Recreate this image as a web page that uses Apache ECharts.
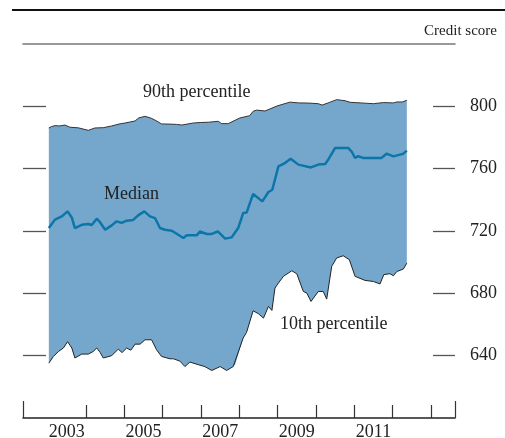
<!DOCTYPE html>
<html>
<head>
<meta charset="utf-8">
<script src="https://cdn.jsdelivr.net/npm/echarts@6/dist/echarts.min.js"></script>
<style>
  html, body { margin: 0; padding: 0; background: #fff; }
  #chart { width: 505px; height: 438px; }
</style>
</head>
<body>
<div id="chart"></div>
<script>
// [year, credit score]
const p90 = [
  [2003.03, 786.1], [2003.10, 787.0], [2003.19, 787.6], [2003.32, 787.4], [2003.45, 788.0],
  [2003.58, 786.6], [2003.80, 786.2], [2004.06, 784.6], [2004.23, 786.1], [2004.45, 786.3],
  [2004.67, 787.4], [2004.89, 788.8], [2005.02, 789.3], [2005.28, 790.6], [2005.37, 792.5],
  [2005.54, 793.6], [2005.71, 792.3], [2005.85, 790.5], [2005.97, 788.7], [2006.19, 788.6],
  [2006.36, 788.4], [2006.50, 788.0], [2006.80, 789.3], [2006.98, 789.6], [2007.20, 789.8],
  [2007.45, 790.4], [2007.54, 788.9], [2007.71, 788.9], [2008.01, 792.5], [2008.27, 794.0],
  [2008.36, 796.8], [2008.45, 797.6], [2008.67, 797.0], [2008.98, 800.2], [2009.32, 802.7],
  [2009.55, 802.2], [2009.80, 802.1], [2010.06, 801.7], [2010.16, 800.8], [2010.35, 802.5],
  [2010.54, 804.3], [2010.76, 803.6], [2010.89, 802.6], [2011.15, 802.2], [2011.50, 801.7],
  [2011.76, 802.4], [2012.02, 802.2], [2012.11, 802.8], [2012.25, 802.8], [2012.37, 803.9]
]

const median = [
  [2003.03, 721.9], [2003.19, 727.3], [2003.37, 729.4], [2003.52, 732.6], [2003.63, 728.6],
  [2003.71, 721.9], [2003.89, 724.0], [2004.06, 724.5], [2004.15, 723.9], [2004.28, 727.9],
  [2004.37, 725.5], [2004.50, 720.8], [2004.67, 723.6], [2004.80, 726.2], [2004.93, 725.2],
  [2005.06, 726.6], [2005.23, 727.1], [2005.36, 730.0], [2005.52, 732.6], [2005.67, 729.4],
  [2005.80, 728.3], [2005.93, 721.9], [2006.06, 720.8], [2006.24, 720.2], [2006.54, 715.5],
  [2006.63, 717.2], [2006.89, 717.2], [2006.97, 719.7], [2007.15, 718.1], [2007.28, 718.1],
  [2007.44, 719.7], [2007.63, 715.1], [2007.80, 715.9], [2007.97, 721.9], [2008.10, 731.5],
  [2008.19, 731.8], [2008.36, 743.8], [2008.60, 739.0], [2008.76, 745.0], [2008.86, 746.5],
  [2009.02, 761.5], [2009.19, 763.6], [2009.34, 766.4], [2009.54, 762.6], [2009.87, 760.8],
  [2010.06, 762.6], [2010.24, 763.0], [2010.32, 765.8], [2010.50, 773.3], [2010.84, 773.3],
  [2010.93, 771.0], [2011.02, 766.9], [2011.10, 768.0], [2011.23, 766.9], [2011.71, 766.9],
  [2011.84, 769.6], [2012.02, 767.9], [2012.19, 769.0], [2012.27, 769.5], [2012.37, 771.6]
]

const p10 = [
  [2003.03, 635.2], [2003.15, 639.5], [2003.28, 642.7], [2003.41, 644.9], [2003.52, 649.0],
  [2003.63, 644.9], [2003.71, 638.5], [2003.89, 641.0], [2004.06, 641.0], [2004.19, 642.7],
  [2004.28, 644.9], [2004.37, 642.0], [2004.45, 638.5], [2004.67, 640.0], [2004.84, 644.2],
  [2004.94, 642.0], [2005.06, 644.9], [2005.17, 643.5], [2005.28, 647.4], [2005.41, 647.4],
  [2005.54, 650.2], [2005.71, 650.2], [2005.84, 643.8], [2005.97, 639.5], [2006.19, 638.0],
  [2006.28, 638.0], [2006.45, 636.5], [2006.58, 633.0], [2006.71, 635.9], [2006.93, 634.2],
  [2007.10, 633.0], [2007.28, 630.5], [2007.50, 633.0], [2007.67, 630.5], [2007.84, 633.0],
  [2007.89, 634.2], [2008.10, 651.3], [2008.19, 655.0], [2008.36, 668.8], [2008.50, 666.9],
  [2008.63, 664.1], [2008.76, 671.6], [2008.85, 669.0], [2008.93, 683.4], [2009.02, 686.6],
  [2009.15, 690.9], [2009.37, 694.5], [2009.50, 692.5], [2009.67, 681.2], [2009.76, 680.2],
  [2009.87, 674.8], [2010.06, 681.2], [2010.19, 681.2], [2010.28, 676.3], [2010.41, 697.3],
  [2010.54, 702.7], [2010.71, 704.1], [2010.87, 701.6], [2011.02, 690.9], [2011.28, 688.3],
  [2011.50, 687.6], [2011.67, 686.0], [2011.77, 692.0], [2011.93, 692.6], [2012.02, 691.3],
  [2012.11, 694.0], [2012.28, 695.6], [2012.37, 699.4]
]

const yearTicks = [2004, 2005, 2006, 2007, 2008, 2009, 2010, 2011, 2012, 2013]
const yearLabels = [2003.5, 2005.5, 2007.5, 2009.5, 2011.5]
const scoreTicks = [640, 680, 720, 760, 800]

const X_MIN = 2002.356
const X_MAX = 2013.627
const SERIF = '"Liberation Serif", "DejaVu Serif", serif'

const chart = echarts.init(document.getElementById('chart'))

// band between the 10th and 90th percentile, one polygon through the axes' scales
const renderBand = (params, api) => {
  const pts = p90.map(d => api.coord(d))
    .concat(p10.slice().reverse().map(d => api.coord(d)))
  return { type: 'polygon', shape: { points: pts }, style: { fill: '#75a7cc' } }
}

chart.setOption({
  animation: false,
  grid: { left: 23, right: 50, top: 44, bottom: 20, outerBoundsMode: 'none' },
  xAxis: [
    {
      type: 'value', min: X_MIN, max: X_MAX, position: 'bottom', z: 10,
      splitLine: { show: false },
      axisLine: { lineStyle: { color: '#222', width: 1.5 } },
      axisTick: { inside: true, length: 13, customValues: yearTicks, lineStyle: { color: '#333', width: 1.2 } },
      axisLabel: {
        customValues: yearLabels, margin: 5,
        formatter: v => String(Math.floor(v)),
        fontFamily: SERIF, fontSize: 18, color: '#222'
      }
    },
    {
      type: 'value', min: X_MIN, max: X_MAX, position: 'bottom', z: 10,
      splitLine: { show: false },
      axisLine: { show: false },
      axisTick: { inside: true, length: 17, customValues: [X_MIN, X_MAX], lineStyle: { color: '#333', width: 1.2 } },
      axisLabel: { show: false }
    },
    {
      type: 'value', min: X_MIN, max: X_MAX, position: 'top', z: 10,
      splitLine: { show: false },
      axisLine: { lineStyle: { color: '#777', width: 1.5 } },
      axisTick: { show: false },
      axisLabel: { show: false }
    }
  ],
  yAxis: [
    {
      type: 'value', min: 600, max: 840, position: 'left',
      splitLine: { show: false },
      axisLine: { show: false },
      axisTick: { inside: true, length: 23, customValues: scoreTicks, lineStyle: { color: '#555', width: 1.3 } },
      axisLabel: { show: false }
    },
    {
      type: 'value', min: 600, max: 840, position: 'right',
      splitLine: { show: false },
      axisLine: { show: false },
      axisTick: { inside: true, length: 22, customValues: scoreTicks, lineStyle: { color: '#555', width: 1.3 } },
      axisLabel: {
        customValues: scoreTicks, margin: 15,
        fontFamily: SERIF, fontSize: 18, color: '#222'
      }
    }
  ],
  series: [
    {
      name: 'band', type: 'custom', data: [p90[0]], renderItem: renderBand,
      silent: true, z: 1
    },
    {
      name: '90th percentile', type: 'line', data: p90, symbol: 'none',
      lineStyle: { color: '#333', width: 1 }, z: 3
    },
    {
      name: '10th percentile', type: 'line', data: p10, symbol: 'none',
      lineStyle: { color: '#222', width: 1 }, z: 3
    },
    {
      name: 'Median', type: 'line', data: median, symbol: 'none',
      lineStyle: { color: '#0b76a9', width: 2.5 }, z: 4
    }
  ],
  graphic: [
    { type: 'rect', z: 100, shape: { x: 12, y: 9, width: 493, height: 2 }, style: { fill: '#111' } },
    { type: 'text', z: 100, right: 8, top: 24, style: { text: 'Credit score', font: '15px ' + SERIF, fill: '#222' } },
    { type: 'text', z: 100, left: 143, top: 83, style: { text: '90th percentile', font: '18px ' + SERIF, fill: '#222' } },
    { type: 'text', z: 100, left: 104, top: 185, style: { text: 'Median', font: '18px ' + SERIF, fill: '#222' } },
    { type: 'text', z: 100, left: 280, top: 315, style: { text: '10th percentile', font: '18px ' + SERIF, fill: '#222' } }
  ]
})
</script>
</body>
</html>
